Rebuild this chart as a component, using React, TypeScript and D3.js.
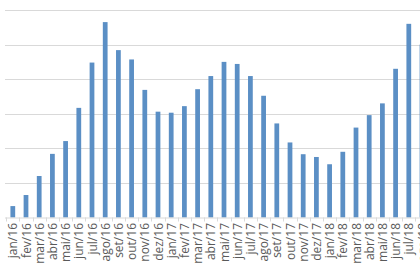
import React from "react";
import * as d3 from "d3";

const months: string[] = [
  "jan/16", "fev/16", "mar/16", "abr/16", "mai/16", "jun/16", "jul/16", "ago/16",
  "set/16", "out/16", "nov/16", "dez/16", "jan/17", "fev/17", "mar/17", "abr/17",
  "mai/17", "jun/17", "jul/17", "ago/17", "set/17", "out/17", "nov/17", "dez/17",
  "jan/18", "fev/18", "mar/18", "abr/18", "mai/18", "jun/18", "jul/18", "ago/18",
];

const values: number[] = [
  3.3, 6.5, 12.0, 18.4, 22.1, 31.7, 44.8, 56.5,
  48.4, 45.7, 36.9, 30.6, 30.3, 32.2, 37.1, 40.9,
  45.0, 44.4, 40.9, 35.2, 27.2, 21.7, 18.3, 17.5,
  15.4, 19.0, 26.0, 29.6, 33.0, 43.0, 56.0, 50.0,
];

const yTicks: number[] = [10, 20, 30, 40, 50, 60];

const W = 420;
const H = 280;
const left = 6.2;
const step = 13.2;
const baseY = 217.5;
const topY = 10;

export default function App() {
  const x = d3
    .scaleBand<string>()
    .domain(months)
    .range([left, left + step * months.length])
    .paddingInner(0.64)
    .paddingOuter(0.32);
  const y = d3.scaleLinear().domain([0, 60]).range([baseY, topY]);

  const boundaries = months.map((_, i) => left + i * step).concat([left + months.length * step]);

  return (
    <svg
      width={W}
      height={H}
      style={{ position: "absolute", left: 0, top: 0, background: "#fff" }}
    >
      <rect x={0} y={0} width={W} height={H} fill="#ffffff" />
      {yTicks.map((t) => (
        <line
          key={t}
          x1={5}
          x2={W + 20}
          y1={Math.round(y(t)) + 0.5}
          y2={Math.round(y(t)) + 0.5}
          stroke="#d9d9d9"
          strokeWidth={1}
        />
      ))}
      {months.map((m, i) => (
        <rect
          key={m}
          x={x(m)!}
          y={y(values[i])}
          width={x.bandwidth()}
          height={baseY - y(values[i])}
          fill="#5b8fc5"
        />
      ))}
      <line x1={5} x2={W + 20} y1={baseY + 0.5} y2={baseY + 0.5} stroke="#d9d9d9" strokeWidth={1} />
      {boundaries.map((bx, i) => (
        <line
          key={i}
          x1={Math.round(bx) + 0.5}
          x2={Math.round(bx) + 0.5}
          y1={baseY}
          y2={baseY + 4}
          stroke="#d9d9d9"
          strokeWidth={1}
        />
      ))}
      {months.map((m) => {
        const cx = x(m)! + x.bandwidth() / 2;
        const ty = 223;
        return (
          <text
            key={m}
            transform={`translate(${cx},${ty}) rotate(-90)`}
            textAnchor="end"
            dominantBaseline="central"
            fontFamily="'Open Sans', sans-serif"
            fontSize={12}
            fill="#595959"
          >
            {m}
          </text>
        );
      })}
    </svg>
  );
}
